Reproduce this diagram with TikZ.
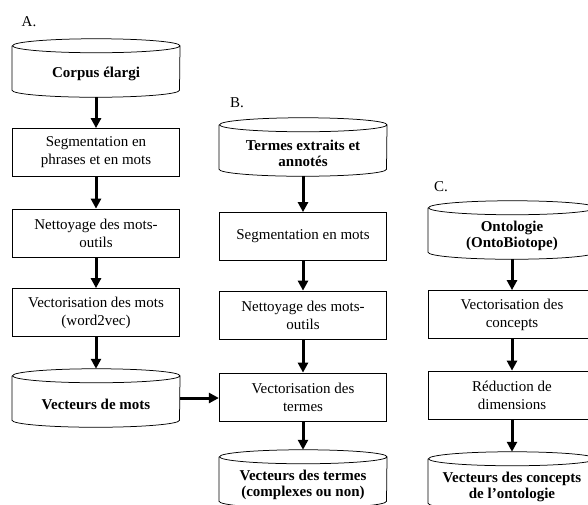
\documentclass[tikz,border=0pt]{standalone}
\usepackage{fontspec}
\setmainfont{Liberation Serif}
\usepackage{pgf,tikz}
\usetikzlibrary{positioning,arrows.meta}
\newcommand{\policefig}{\fontsize{12}{14.4}\selectfont}

\tikzset{
  etape/.style={draw, line width=0.6pt, minimum width=134pt, minimum height=38.4pt,
    inner sep=1pt, align=center, font=\policefig},
  base/.style={minimum width=134pt, minimum height=46.4pt, inner sep=0pt,
    label={[font=\fontsize{12}{13}\selectfont\bfseries, align=center, yshift=-5pt]center:#1},
    append after command={\pgfextra{
      \draw[line width=0.6pt] ([yshift=-5.6pt]\tikzlastnode.north west)
        -- ([yshift=5.6pt]\tikzlastnode.south west)
        arc[start angle=180, end angle=360, x radius=67pt, y radius=5.6pt]
        -- ([yshift=-5.6pt]\tikzlastnode.north east)
        arc[start angle=0, end angle=360, x radius=67pt, y radius=5.6pt];
    }}},
  fleche/.style={-{Triangle[length=8pt,width=8pt]}, line width=2.4pt},
}

\begin{document}
\begin{tikzpicture}[x=0.8pt,y=-0.8pt]
					\useasboundingbox (0,0) rectangle (588,504);
					\clip (0,0) rectangle (588,504);
					% A.
					\node[font=\policefig] (lblA) at (29,22) {A.};
					\node[base={Corpus élargi}] (a1) at (96,68) {};
					\node[etape] (a2) at (96,152.5) {Segmentation en\\phrases et en mots};
					\node[etape] (a3) at (96,233) {Nettoyage des mots-\\outils};
					\node[etape] (a4) at (96,312.5) {Vectorisation des mots\\(word2vec)};
					\node[base={Vecteurs de mots}] (a5) at (96,398) {};
					% B.
					\node[font=\policefig] (lblB) at (237,103) {B.};
					\node[base={Termes extraits et\\annotés}] (b1) at (303,147) {};
					\node[etape] (b2) at (303,236.5) {Segmentation en mots};
					\node[etape] (b3) at (303,315) {Nettoyage des mots-\\outils};
					\node[etape] (b4) at (303,397) {Vectorisation des\\termes};
					\node[base={Vecteurs des termes\\(complexes ou non)}] (b5) at (303,479) {};
					% C.
					\node[font=\policefig] (lblC) at (441,187) {C.};
					\node[base={Ontologie\\(OntoBiotope)}] (c1) at (512,230) {};
					\node[etape] (c2) at (512,314.5) {Vectorisation des\\concepts};
					\node[etape] (c3) at (512,395) {Réduction de\\dimensions};
					\node[base={Vecteurs des concepts\\de l’ontologie}] (c4) at (512,481) {};
					\draw[fleche] (a1) -- (a2);
					\draw[fleche] (a2) -- (a3);
					\draw[fleche] (a3) -- (a4);
					\draw[fleche] (a4) -- (a5);
					\draw[fleche] (b1) -- (b2);
					\draw[fleche] (b2) -- (b3);
					\draw[fleche] (b3) -- (b4);
					\draw[fleche] (b4) -- (b5);
					\draw[fleche] (c1) -- (c2);
					\draw[fleche] (c2) -- (c3);
					\draw[fleche] (c3) -- (c4);
					\draw[fleche] (a5.east) -- (a5.east -| b4.west);
					\end{tikzpicture}
\end{document}
